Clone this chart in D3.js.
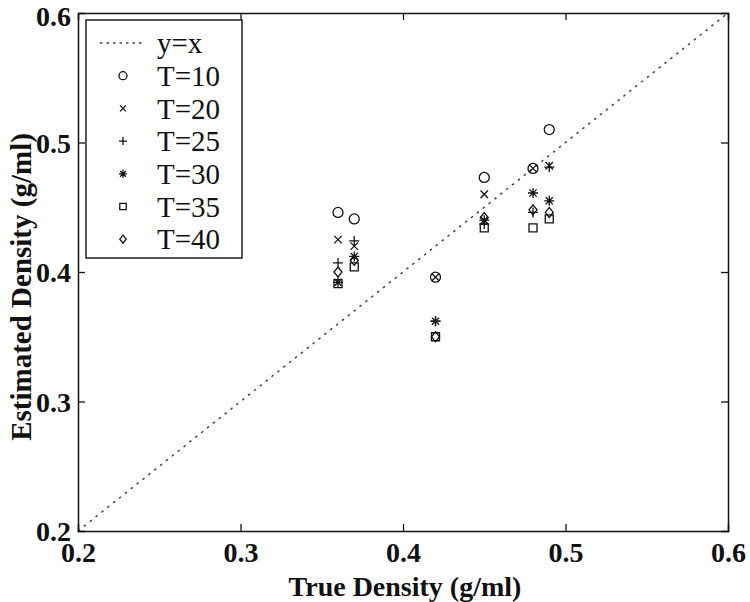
<!DOCTYPE html>
<html><head><meta charset="utf-8">
<script src="https://cdn.jsdelivr.net/npm/d3@7"></script>
<style>body{margin:0;background:#fff}svg{display:block}</style>
</head><body>
<svg id="c" width="750" height="602"></svg>
<script>
const trueDensity = [0.36, 0.37, 0.42, 0.45, 0.48, 0.49];
const T10 = [0.446, 0.441, 0.396, 0.473, 0.480, 0.510];
const T20 = [0.425, 0.420, 0.396, 0.460, 0.480, 0.482];
const T25 = [0.407, 0.424, 0.362, 0.437, 0.446, 0.481];
const T30 = [0.392, 0.412, 0.362, 0.440, 0.461, 0.455];
const T35 = [0.391, 0.404, 0.350, 0.434, 0.434, 0.441];
const T40 = [0.400, 0.409, 0.350, 0.442, 0.448, 0.446];
const seriesNames = ["T=10", "T=20", "T=25", "T=30", "T=35", "T=40"];
const seriesValues = [T10, T20, T25, T30, T35, T40];
const seriesMarkers = ["circle", "x", "plus", "star", "square", "diamond"];
const xTicks = [0.2, 0.3, 0.4, 0.5, 0.6];
const yTicks = [0.2, 0.3, 0.4, 0.5, 0.6];

const svg = d3.select("#c");
const L = 78, R = 728, T = 13, B = 531;
const x = d3.scaleLinear().domain([0.2, 0.6]).range([L, R]);
const y = d3.scaleLinear().domain([0.2, 0.6]).range([B, T]);
const ink = "#111";
const serif = "Liberation Serif, Times New Roman, serif";

function marker(g, type, s) {
  if (type === "circle") {
    g.append("circle").attr("r", s).attr("fill", "none").attr("stroke", ink).attr("stroke-width", 1.3);
    return;
  }
  let d = "";
  if (type === "x") {
    const a = s * 0.75;
    d = `M${-a},${-a}L${a},${a}M${-a},${a}L${a},${-a}`;
  } else if (type === "plus") {
    d = `M${-s},0L${s},0M0,${-s}L0,${s}`;
  } else if (type === "star") {
    const a = s * 0.72;
    d = `M${-s},0L${s},0M0,${-s}L0,${s}M${-a},${-a}L${a},${a}M${-a},${a}L${a},${-a}`;
  } else if (type === "square") {
    const a = s * 0.8;
    d = `M${-a},${-a}H${a}V${a}H${-a}Z`;
  } else if (type === "diamond") {
    d = `M0,${-s}L${s*0.8},0L0,${s}L${-s*0.8},0Z`;
  }
  g.append("path").attr("d", d).attr("fill", "none").attr("stroke", ink).attr("stroke-width", 1.3);
}

// y=x line
svg.append("line").attr("x1", x(0.2)).attr("y1", y(0.2)).attr("x2", x(0.6)).attr("y2", y(0.6))
  .attr("stroke", "#444").attr("stroke-width", 1.5).attr("stroke-dasharray", "2.5,5");

// axes frame
const gx = svg.append("g").attr("transform", `translate(0,${B})`)
  .call(d3.axisBottom(x).tickValues(xTicks).tickSize(-7).tickPadding(11).tickFormat(d3.format(".1f")));
const gy = svg.append("g").attr("transform", `translate(${L},0)`)
  .call(d3.axisLeft(y).tickValues(yTicks).tickSize(-7).tickPadding(7).tickFormat(d3.format(".1f")));
const gxt = svg.append("g").attr("transform", `translate(0,${T})`)
  .call(d3.axisTop(x).tickValues(xTicks).tickSize(-7).tickFormat(""));
const gyr = svg.append("g").attr("transform", `translate(${R},0)`)
  .call(d3.axisRight(y).tickValues(yTicks).tickSize(-7).tickFormat(""));
[gx, gy, gxt, gyr].forEach(g => {
  g.select(".domain").attr("stroke", ink).attr("stroke-width", 1.5);
  g.selectAll(".tick line").attr("stroke", ink).attr("stroke-width", 1.3);
  g.selectAll(".tick").filter(d => d === 0.2 || d === 0.6).select("line").remove();
  g.selectAll("text").attr("font-family", serif)
    .attr("font-weight", "bold").attr("font-size", 28).attr("fill", ink);
});
gy.selectAll("text").attr("dy", d => d === 0.6 ? "0.45em" : "0.35em");

// data
seriesValues.forEach((vals, si) => {
  vals.forEach((v, i) => {
    const g = svg.append("g").attr("transform", `translate(${x(trueDensity[i])},${y(v)})`);
    marker(g, seriesMarkers[si], 5);
  });
});

// axis titles
svg.append("text").attr("x", 405).attr("y", 596).attr("text-anchor", "middle")
  .attr("font-family", serif).attr("font-weight", "bold")
  .attr("font-size", 28).attr("fill", ink).text("True Density (g/ml)");
svg.append("text").attr("transform", `translate(31,287) rotate(-90)`).attr("text-anchor", "middle")
  .attr("font-family", serif).attr("font-weight", "bold")
  .attr("font-size", 29).attr("fill", ink).text("Estimated Density (g/ml)");

// legend
const lg = svg.append("g");
lg.append("rect").attr("x", 86).attr("y", 20).attr("width", 156).attr("height", 238)
  .attr("fill", "#fff").attr("stroke", ink).attr("stroke-width", 1.4);
const rowY = i => 43 + i * 32.7;
lg.append("line").attr("x1", 100).attr("x2", 143).attr("y1", rowY(0)).attr("y2", rowY(0))
  .attr("stroke", "#444").attr("stroke-width", 1.3).attr("stroke-dasharray", "2.5,4");
const legendNames = ["y=x"].concat(seriesNames);
legendNames.forEach((n, i) => {
  lg.append("text").attr("x", 157).attr("y", rowY(i)).attr("dy", "0.35em")
    .attr("font-family", serif).attr("font-size", 29)
    .attr("fill", ink).text(n);
  if (i > 0) {
    const g = lg.append("g").attr("transform", `translate(123,${rowY(i)})`);
    marker(g, seriesMarkers[i - 1], 4);
  }
});
</script>
</body></html>
